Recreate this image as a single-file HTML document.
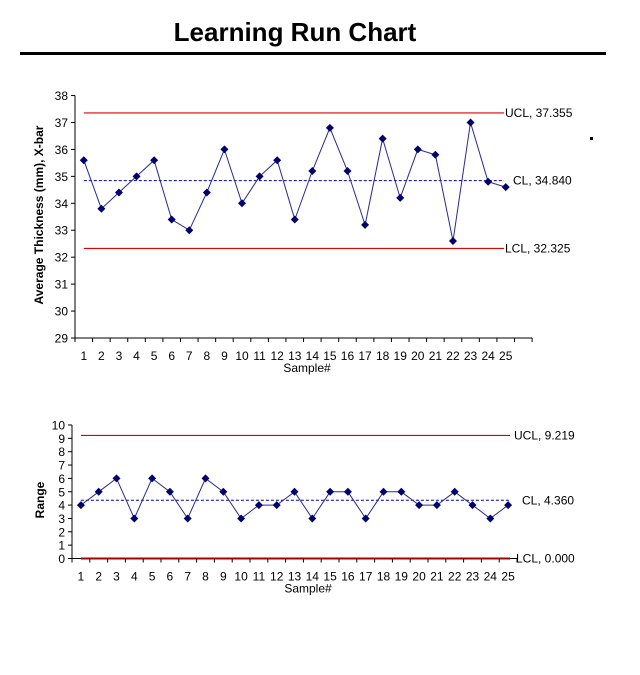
<!DOCTYPE html>
<html><head><meta charset="utf-8"><style>
html,body{margin:0;padding:0;background:#fff;width:640px;height:675px;overflow:hidden}
svg{display:block;font-family:"Liberation Sans",Arial,sans-serif}
</style></head><body>
<svg id="s" width="640" height="675" xmlns="http://www.w3.org/2000/svg">
<text x="295" y="41" text-anchor="middle" font-size="26" font-weight="bold" fill="#000">Learning Run Chart</text>
<rect x="20" y="52" width="586" height="3" fill="#000"/>
<rect x="590" y="137" width="3" height="3" fill="#000"/>
</svg>
<script>
var s=document.getElementById('s'),h='';
function T(x,y,t,a,sz,ex){h+='<text x="'+x+'" y="'+y+'" font-size="'+(sz||12)+'" text-anchor="'+(a||'start')+'" '+(ex||'')+'>'+t+'</text>';}
function L(x1,y1,x2,y2,c,w,ex){h+='<line x1="'+x1+'" y1="'+y1+'" x2="'+x2+'" y2="'+y2+'" stroke="'+c+'" stroke-width="'+(w||1)+'" '+(ex||'')+'/>';}
function chart(o){
 var X0=o.x0,st=o.step,Y=function(v){return o.yb-(v-o.min)*o.ppu;};
 L(X0,Y(o.max),X0,o.yb,'#000');
 for(var v=o.min;v<=o.max;v++){L(X0-4,Y(v),X0,Y(v),'#000');T(X0-7,Y(v)+4.5,v,'end',o.fs);}
 L(X0,o.yb,o.xend,o.yb,'#000');
 for(var i=0;i<=o.nt;i++){var x=X0+i*st;L(x,o.yb,x,o.yb+4,'#000');}
 for(i=1;i<=25;i++)T(X0+st*(i-0.5),o.yb+o.ly,i,'middle',12);
 var xs=X0+st*0.5;
 L(xs,Y(o.ucl),o.le,Y(o.ucl),'#e00000',1.2);
 L(xs,Y(o.cl),o.le,Y(o.cl),'#0000a0',1,'stroke-dasharray="3,2"');
 L(xs,Y(o.lcl),o.le,Y(o.lcl),o.lclc||'#e00000',o.lclw||1.2);
 T(o.tx,Y(o.ucl)+4,o.ut,'start',12);
 T(o.tx+8,Y(o.cl)+4,o.ct,'start',12);
 T(o.tx+o.lo,Y(o.lcl)+4,o.lt,'start',12);
 var p='';o.d.forEach(function(v,i){p+=(X0+st*(i+0.5)).toFixed(1)+','+Y(v).toFixed(1)+' ';});
 h+='<polyline points="'+p+'" fill="none" stroke="#2a2a90" stroke-width="1"/>';
 o.d.forEach(function(v,i){var x=X0+st*(i+0.5),y=Y(v);h+='<polygon points="'+x+','+(y-4)+' '+(x+4)+','+y+' '+x+','+(y+4)+' '+(x-4)+','+y+'" fill="#00006e"/>';});
 T(o.xlx,o.yb+o.ly+12,'Sample#','middle',12);
 h+='<text transform="translate('+o.ylx+','+o.yly+') rotate(-90)" font-size="12" font-weight="bold" text-anchor="middle">'+o.yl+'</text>';
}
chart({x0:75,step:17.58,xend:532,nt:26,min:29,max:38,yb:338,ppu:26.94,fs:12,ly:22,
 ucl:37.355,cl:34.84,lcl:32.325,le:504,tx:505,lo:0,ut:'UCL, 37.355',ct:'CL, 34.840',lt:'LCL, 32.325',
 d:[35.6,33.8,34.4,35.0,35.6,33.4,33.0,34.4,36.0,34.0,35.0,35.6,33.4,35.2,36.8,35.2,33.2,36.4,34.2,36.0,35.8,32.6,37.0,34.8,34.6],
 xlx:307,ylx:43,yly:215,yl:'Average Thickness (mm), X-bar'});
chart({x0:72,step:17.8,xend:517,nt:25,min:0,max:10,yb:558.5,ppu:13.35,fs:12,ly:22,
 ucl:9.219,cl:4.36,lcl:0,le:510,tx:514,lo:2,ut:'UCL, 9.219',ct:'CL, 4.360',lt:'LCL, 0.000',lclc:'#a00000',lclw:2,
 d:[4,5,6,3,6,5,3,6,5,3,4,4,5,3,5,5,3,5,5,4,4,5,4,3,4],
 xlx:308,ylx:44,yly:500,yl:'Range'});
s.insertAdjacentHTML('beforeend',h);
</script>
</body></html>
